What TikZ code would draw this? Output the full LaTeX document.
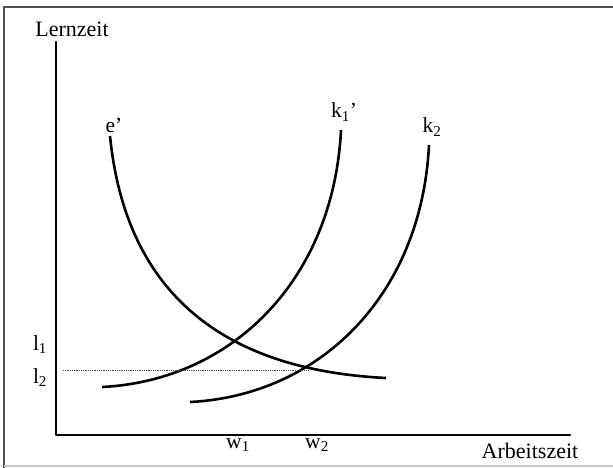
\documentclass[tikz,border=0pt]{standalone}
\usepackage{fontspec}
\setmainfont{Liberation Serif}
\usetikzlibrary{positioning}
\definecolor{FrameGray}{HTML}{505050}
\definecolor{ScanGray}{HTML}{C8C8C8}
\tikzset{
  axis/.style={
    line width=2.8pt,
    line cap=round,
    line join=round
  },
  curve/.style={
    line width=2.6pt
  },
  guide/.style={
    densely dotted,
    line width=0.8pt,
    draw=black!70
  },
  axislabel/.style={
    font=\fontsize{22}{24}\selectfont,
    inner sep=0pt,
    anchor=base
  },
  marker/.style={
    font=\fontsize{21.5}{24}\selectfont,
    inner sep=0pt,
    anchor=base
  }
}

\begin{document}
\begin{tikzpicture}[x=1pt,y=-1pt]
  \useasboundingbox (0,0) rectangle (613,468);

  % frame
  \draw[FrameGray, line width=1.2pt] (613,7) -- (4,7) -- (4,468);
  \draw[ScanGray, line width=1.2pt] (4,466) -- (613,466);

  % axes
  \coordinate (origin) at (56,435);
  \coordinate (ytop) at (56,42);
  \coordinate (xend) at (570,435);
  \draw[axis] (ytop) -- (origin) -- (xend);

  \node[axislabel] (lernzeit) at (72,37) {Lernzeit};
  \node[axislabel] (arbeitszeit) at (530,458) {Arbeitszeit};

  % curves
  \coordinate (etop) at (110,136);
  \coordinate (eend) at (386,378);
  \coordinate (konestart) at (102,387);
  \coordinate (konetop) at (341,130);
  \coordinate (ktwostart) at (190,402);
  \coordinate (ktwotop) at (429,145);

  \draw[curve] (etop) .. controls (125,286) and (215,369.5) .. (eend);
  \draw[curve] (konestart) .. controls (232,380.5) and (333.5,280) .. (konetop);
  \draw[curve] (ktwostart) .. controls (320,395.5) and (421.5,295) .. (ktwotop);

  \coordinate (ltwo) at (63,370);
  \coordinate (cross) at (308,370);
  \draw[guide] (ltwo) -- (cross);

  % labels
  \node[marker] (e) at (114,132) {e’};
  \node[marker] (kone) at (344,118) {k\textsubscript{1}’};
  \node[marker] (ktwo) at (432,133) {k\textsubscript{2}};
  \node[marker] (lone) at (40,350) {l\textsubscript{1}};
  \node[marker] (ltwolabel) at (40,383) {l\textsubscript{2}};
  \node[marker] (wone) at (238,448) {w\textsubscript{1}};
  \node[marker] (wtwo) at (317,448) {w\textsubscript{2}};

\end{tikzpicture}
\end{document}
